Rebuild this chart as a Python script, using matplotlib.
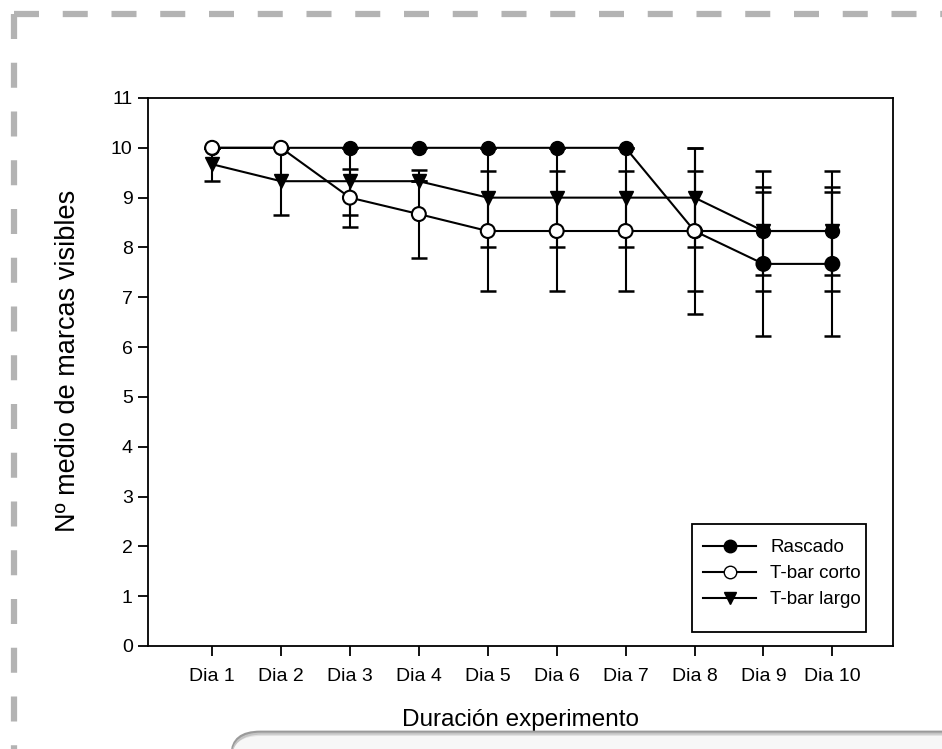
import numpy as np
import matplotlib
matplotlib.use("Agg")
import matplotlib.pyplot as plt
from matplotlib.lines import Line2D
from matplotlib.patches import FancyBboxPatch, Rectangle

plt.rcParams['font.family'] = ['Liberation Sans', 'DejaVu Sans']

dias = ["Dia 1", "Dia 2", "Dia 3", "Dia 4", "Dia 5",
        "Dia 6", "Dia 7", "Dia 8", "Dia 9", "Dia 10"]

rascado = [10, 10, 10, 10, 10, 10, 10, 8.33, 8.33, 8.33]
rascado_err = [0, 0, 0, 0, 0, 0, 0, 1.67, 0.88, 0.88]

tbar_corto = [10, 10, 9, 8.67, 8.33, 8.33, 8.33, 8.33, 7.67, 7.67]
tbar_corto_err = [0, 0, 0.58, 0.88, 1.2, 1.2, 1.2, 1.2, 1.45, 1.45]

tbar_largo = [9.67, 9.33, 9.33, 9.33, 9, 9, 9, 9, 8.33, 8.33]
tbar_largo_err = [0.33, 0.67, 0.67, 0, 1, 1, 1, 1, 1.2, 1.2]

W, H = 942, 749
fig = plt.figure(figsize=(W / 100, H / 100), dpi=100)

# dashed frame around the figure
frame_kw = dict(color="#b3b3b3", lw=4.5, dashes=(4.0, 3.8), solid_capstyle="butt")
fig.add_artist(Line2D([14 / W, 1.0], [1 - 14 / H, 1 - 14 / H], **frame_kw))
fig.add_artist(Line2D([14 / W, 14 / W], [1 - 14 / H, 0.0], **frame_kw))

AX_L, AX_R, AX_T, AX_B = 148, 893, 98, 646
ax = fig.add_axes([AX_L / W, 1 - AX_B / H, (AX_R - AX_L) / W, (AX_B - AX_T) / H])
x = np.arange(1, len(dias) + 1)

lw = 1.5
ms = 10
cap = 6

ax.errorbar(x, tbar_largo, yerr=tbar_largo_err, color="black", lw=lw,
            marker="v", ms=ms, mfc="black", mec="black",
            ecolor="black", elinewidth=lw, capsize=cap, capthick=1.8, zorder=3)
ax.errorbar(x, rascado, yerr=rascado_err, color="black", lw=lw,
            marker="o", ms=ms, mfc="black", mec="black",
            ecolor="black", elinewidth=lw, capsize=cap, capthick=1.8, zorder=4)
ax.errorbar(x, tbar_corto, yerr=tbar_corto_err, color="black", lw=lw,
            marker=None, ecolor="black", elinewidth=lw, capsize=cap,
            capthick=1.8, zorder=5)
corto_faces = ["white"] * 8 + ["black"] * 2
ax.scatter(x, tbar_corto, s=ms ** 2, marker="o", facecolors=corto_faces,
           edgecolors="black", linewidths=lw, zorder=6)

ax.set_xlim(0.07, 10.88)
ax.set_ylim(0, 11)
ax.set_yticks(range(0, 12))
ax.set_xticks(x)
ax.set_xticklabels(dias)
for s in ax.spines.values():
    s.set_linewidth(1.3)
ax.tick_params(axis="both", direction="out", length=7, width=1.3,
               labelsize=14, colors="black")
ax.tick_params(axis="x", pad=9)
ax.tick_params(axis="y", pad=4)

ax.set_xlabel("Duración experimento", fontsize=17.5, labelpad=17)
ax.set_ylabel("Nº medio de marcas visibles", fontsize=19.5)
ax.yaxis.set_label_coords(-0.09, 0.52)


def to_axes(px, py):
    return ((px - AX_L) / (AX_R - AX_L), (AX_B - py) / (AX_B - AX_T))


handles = [
    Line2D([], [], color="black", lw=lw, marker="o", ms=9, mfc="black", mec="black"),
    Line2D([], [], color="black", lw=lw, marker="o", ms=9, mfc="white", mec="black"),
    Line2D([], [], color="black", lw=lw, marker="v", ms=9, mfc="black", mec="black"),
]
leg = ax.legend(handles, ["Rascado", "T-bar corto", "T-bar largo"],
                loc="upper left", bbox_to_anchor=to_axes(703, 539),
                fontsize=13.5, frameon=False, borderpad=0, borderaxespad=0,
                handlelength=2.85, handletextpad=0.75, labelspacing=0.48)
(fx0, fy0), (fx1, fy1) = to_axes(692, 632), to_axes(866, 524)
ax.add_patch(Rectangle((fx0, fy0), fx1 - fx0, fy1 - fy0, transform=ax.transAxes,
                       facecolor="white", edgecolor="black", lw=1.3, zorder=7))
leg.set_zorder(8)

# rounded panel peeking in at the bottom edge
for i, c in enumerate(["#9a9a9a", "#c4c4c4", "#e2e2e2"]):
    fig.add_artist(FancyBboxPatch((232 / W + i * 0.001, -0.2), 1.0, 0.2 + (749 - 732 - i * 2) / H,
                                  boxstyle="round,pad=0,rounding_size=0.03",
                                  transform=fig.transFigure, facecolor="none",
                                  edgecolor=c, lw=2))
fig.add_artist(FancyBboxPatch((232 / W, -0.2), 1.0, 0.2 + (749 - 736) / H,
                              boxstyle="round,pad=0,rounding_size=0.03",
                              transform=fig.transFigure, facecolor="#f7f7f7",
                              edgecolor="none"))

fig.savefig("out.png", dpi=100)
